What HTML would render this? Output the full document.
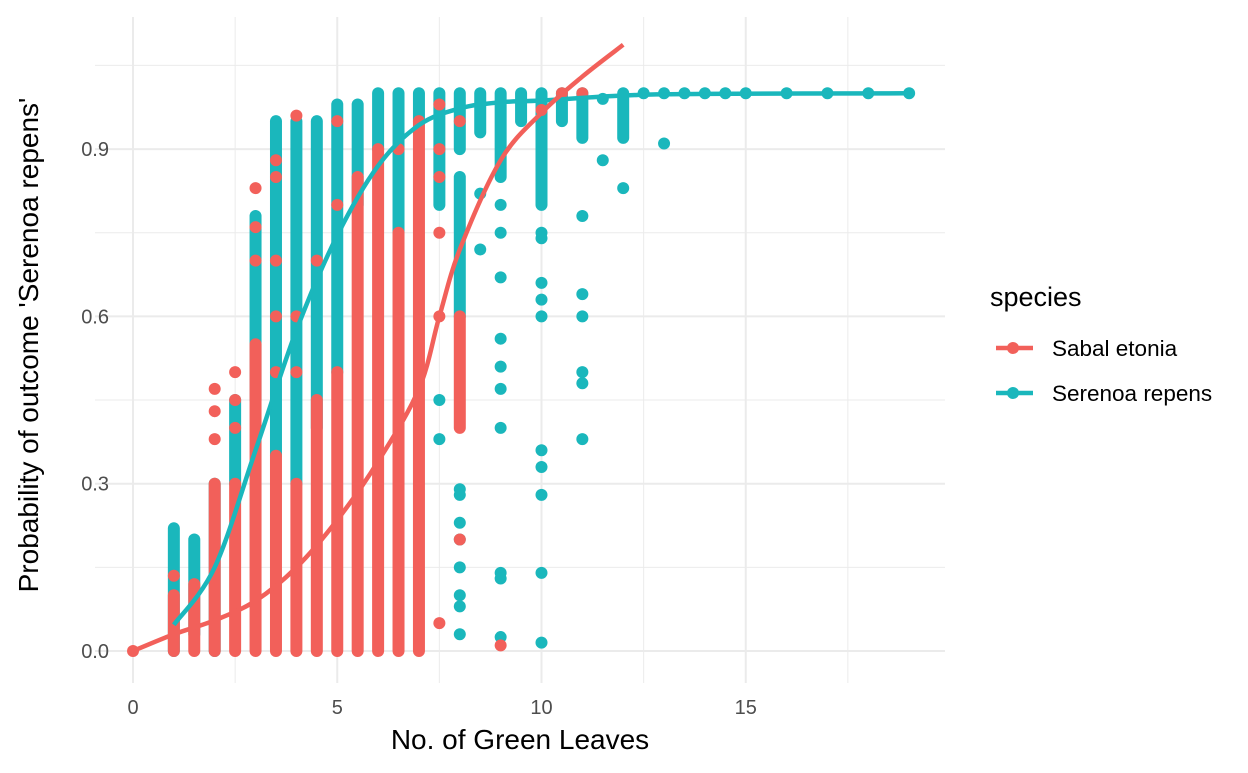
<!DOCTYPE html>
<html><head><meta charset="utf-8"><style>
body{margin:0;background:#fff;font-family:"Liberation Sans",Arial,sans-serif}
text{font-family:"Liberation Sans",Arial,sans-serif}
</style></head><body>
<svg id="c" width="1248" height="768" xmlns="http://www.w3.org/2000/svg">
<g id="grid"></g>
<g id="pts"></g>
<g id="lines"></g>
<g id="axes"></g>
<text x="520" y="749" text-anchor="middle" font-size="28" fill="#000">No. of Green Leaves</text>
<text transform="translate(38,345) rotate(-90)" text-anchor="middle" font-size="28" fill="#000">Probability of outcome 'Serenoa repens'</text>
<g>
<text x="990" y="306" font-size="27">species</text>
<g><line x1="996" y1="348" x2="1033" y2="348" stroke="#F2605A" stroke-width="4.5"/><circle cx="1013" cy="348" r="6" fill="#F2605A"/><text x="1052" y="356" font-size="22.5">Sabal etonia</text></g>
<g><line x1="996" y1="393" x2="1033" y2="393" stroke="#1AB7BC" stroke-width="4.5"/><circle cx="1013" cy="393" r="6" fill="#1AB7BC"/><text x="1052" y="401" font-size="22.5">Serenoa repens</text></g>
</g>
</svg>
<script>
const xTicks=[0,5,10,15];
const yTicks=[0,0.3,0.6,0.9];
const yTickLabels=["0.0","0.3","0.6","0.9"];
// dense point columns: [x, ylo, yhi]
const tealRanges=[[1,0,0.22],[1.5,0.03,0.2],[2,0,0.3],[2.5,0.3,0.45],[3,0.45,0.78],[3.5,0.35,0.95],[4,0.3,0.95],[4.5,0.4,0.95],[5,0.5,0.98],[5.5,0.8,0.98],[6,0.9,1.0],[6.5,0.75,1.0],[7,0.95,1.0],[7.5,0.8,1.0],[8,0.9,1.0],[8,0.6,0.85],[8.5,0.93,1.0],[9,0.85,1.0],[9.5,0.95,1.0],[10,0.8,1.0],[10.5,0.95,1.0],[11,0.92,1.0],[12,0.92,1.0]];
const tealX=[7.5,7.5,8,8,8,8,8,8,8,8,8.5,8.5,9,9,9,9,9,9,9,9,9,9,10,10,10,10,10,10,10,10,10,10,11,11,11,11,11,11,11.5,11.5,12,12.5,13,13,13.5,14,14.5,15,16,17,18,19];
const tealY=[0.45,0.38,0.29,0.28,0.23,0.2,0.15,0.1,0.08,0.03,0.82,0.72,0.8,0.75,0.67,0.56,0.51,0.47,0.4,0.14,0.13,0.025,0.75,0.74,0.66,0.63,0.6,0.36,0.33,0.28,0.14,0.015,0.78,0.64,0.6,0.5,0.48,0.38,0.88,0.99,0.83,1,1,0.91,1,1,1,1,1,1,1,1];
const redRanges=[[1,0,0.1],[1.5,0,0.12],[2,0,0.3],[2.5,0,0.3],[3,0,0.55],[3.5,0,0.35],[4,0,0.3],[4.5,0,0.45],[5,0,0.5],[5.5,0,0.85],[6,0,0.9],[6.5,0,0.75],[7,0,0.95],[8,0.4,0.6]];
const redX=[0,1,2,2,2,2.5,2.5,2.5,3,3,3,3.5,3.5,3.5,3.5,3.5,4,4,4,4.5,5,5,6.5,7.5,7.5,7.5,7.5,7.5,7.5,8,8,9,10,10.5,11];
const redY=[0,0.135,0.38,0.43,0.47,0.4,0.45,0.5,0.7,0.76,0.83,0.5,0.6,0.7,0.85,0.88,0.96,0.5,0.6,0.7,0.95,0.8,0.9,0.05,0.6,0.75,0.85,0.9,0.98,0.2,0.95,0.01,0.97,1.0,1.0];
const redCurveX=[0,1,2,3,4,5,6,7,7.5,8,9,10,11,12];
const redCurveY=[0,0.03,0.055,0.09,0.15,0.235,0.34,0.47,0.6,0.72,0.88,0.965,1.03,1.087];
const tealCurveX=[1,2,3,4,5,6,7,8,9,10,12,14,19];
const tealCurveY=[0.047,0.15,0.36,0.575,0.745,0.87,0.943,0.973,0.984,0.987,0.996,0.999,1.0];
const X=v=>133+v*40.85, Y=v=>651-v*557.7;
const NS="http://www.w3.org/2000/svg";
function mk(p,t,a){const e=document.createElementNS(NS,t);for(const k in a)e.setAttribute(k,a[k]);p.appendChild(e);return e;}
const g=document.getElementById('grid');
for(let v=0;v<=17.5;v+=2.5){const l=mk(g,'line',{x1:X(v),x2:X(v),y1:17,y2:683,stroke:'#ebebeb','stroke-width':v%5==0?2:1});

}
for(let v=0;v<=1.05;v+=0.15){const l=mk(g,'line',{x1:95,x2:945,y1:Y(v),y2:Y(v),stroke:'#ebebeb','stroke-width':Math.round(v*100)%30==0?2:1});

}
const ax=document.getElementById('axes');
xTicks.forEach(v=>{const t=mk(ax,'text',{x:X(v),y:714,'text-anchor':'middle','font-size':20,fill:'#4d4d4d'});t.textContent=v;

});
yTicks.forEach((v,i)=>{const t=mk(ax,'text',{x:109,y:Y(v)+7,'text-anchor':'end','font-size':20,fill:'#4d4d4d'});t.textContent=yTickLabels[i];

});
const P=document.getElementById('pts');
function series(ranges,xs,ys,col,name){
ranges.forEach(r=>{const l=mk(P,'line',{x1:X(r[0]),x2:X(r[0]),y1:Y(r[1]),y2:Y(r[2]),stroke:col,'stroke-width':12,'stroke-linecap':'round'});

});
xs.forEach((x,i)=>{const c=mk(P,'circle',{cx:X(x),cy:Y(ys[i]),r:6,fill:col});

});
}
series(tealRanges,tealX,tealY,'#1AB7BC','serenoa');
series(redRanges,redX,redY,'#F2605A','sabal');
const L=document.getElementById('lines');
function curve(xs,ys,col,name){
const pts=xs.map((x,i)=>[X(x),Y(ys[i])]);
let d='M'+pts[0][0]+','+pts[0][1];
for(let i=0;i<pts.length-1;i++){const p0=pts[Math.max(0,i-1)],p1=pts[i],p2=pts[i+1],p3=pts[Math.min(pts.length-1,i+2)];
d+=' C'+(p1[0]+(p2[0]-p0[0])/6)+','+(p1[1]+(p2[1]-p0[1])/6)+' '+(p2[0]-(p3[0]-p1[0])/6)+','+(p2[1]-(p3[1]-p1[1])/6)+' '+p2[0]+','+p2[1];}
const p=mk(L,'path',{d:d,fill:'none',stroke:col,'stroke-width':4.5});

}
curve(tealCurveX,tealCurveY,'#1AB7BC','serenoa');
curve(redCurveX,redCurveY,'#F2605A','sabal');
</script>
</body></html>
